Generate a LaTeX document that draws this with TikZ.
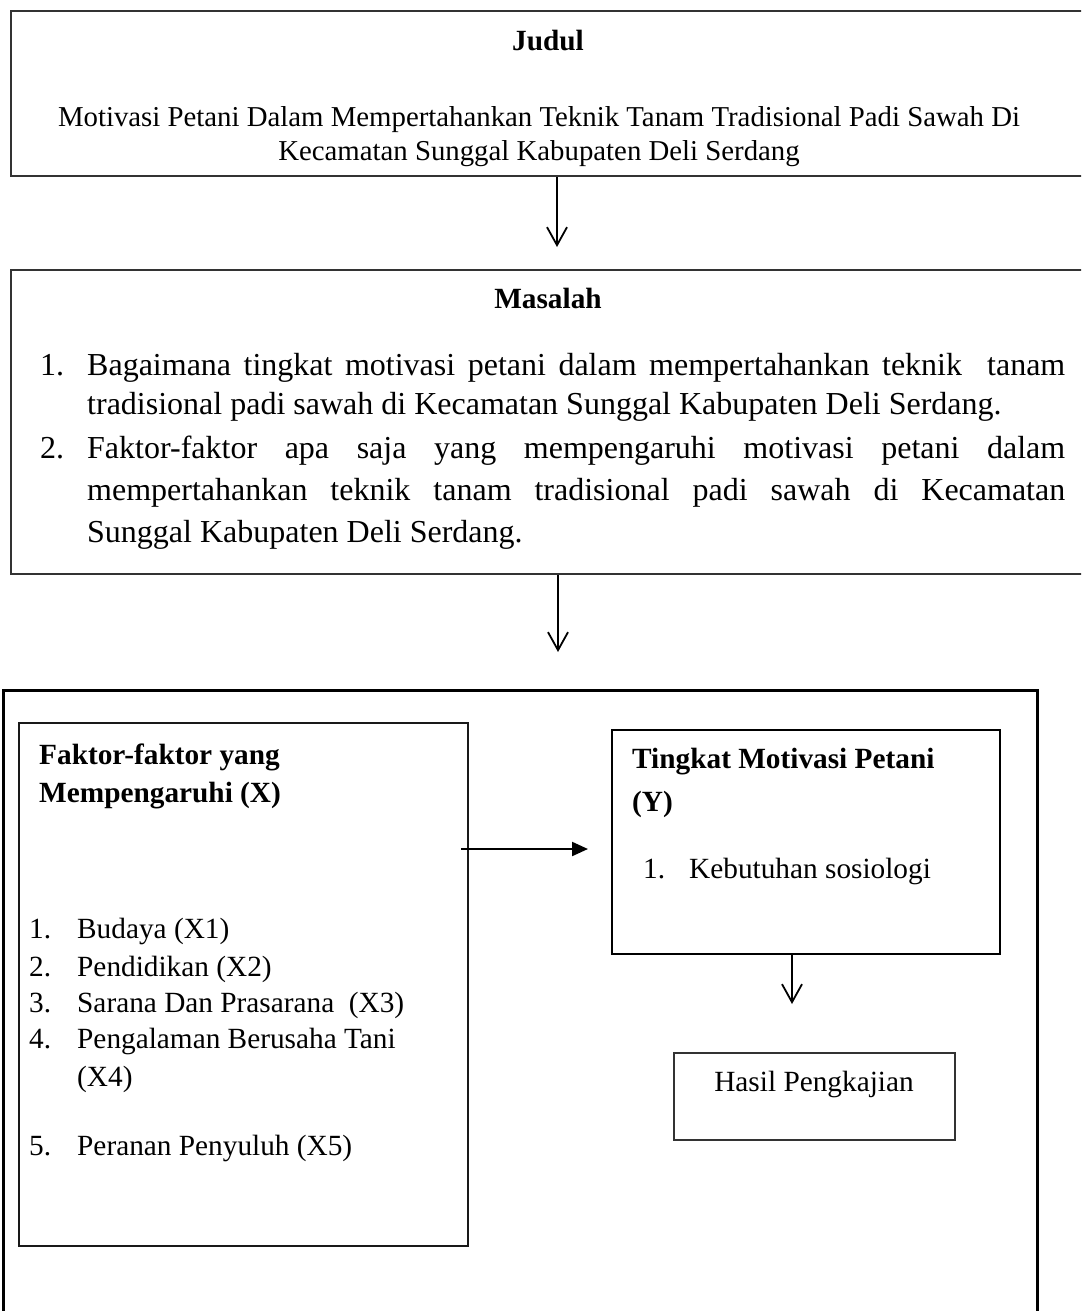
\documentclass[tikz,border=0pt]{standalone}
\usepackage{fontspec}
\setmainfont{Liberation Serif}
\usetikzlibrary{arrows.meta}
\begin{document}
\begin{tikzpicture}[x=1pt,y=-1pt,
  box/.style={draw=black!80, line width=2pt, inner sep=0pt, anchor=north west},
  bigbox/.style={draw=black, line width=3pt, inner sep=0pt, anchor=north west},
  txt/.style={inner sep=0pt, anchor=base west, font=\fontsize{29.3}{35}\selectfont},
  ctxt/.style={txt, anchor=base},
  titletxt/.style={ctxt, font=\fontsize{28.8}{35}\selectfont},
  listtxt/.style={txt, font=\fontsize{32}{38}\selectfont},
  btxt/.style={txt, font=\fontsize{29.3}{35}\selectfont\bfseries},
  cbtxt/.style={btxt, anchor=base},
  openarr/.style={draw=black, line width=1.8pt, -{Straight Barb[length=18pt,width=20pt]}},
  fillarr/.style={draw=black, line width=2.2pt, -{Triangle[length=16pt,width=14pt]}}]
\clip (0,0) rectangle (1081,1311);
\fill[white] (0,0) rectangle (1081,1311);

% top box
\node[box, minimum width=1090pt, minimum height=165pt] (judulbox) at (10,10) {};
\node[cbtxt] (judul) at (548,51) {Judul};
\node[titletxt] (tl1) at (539,127) {Motivasi Petani Dalam Mempertahankan Teknik Tanam Tradisional Padi Sawah Di};
\node[titletxt] (tl2) at (539,160) {Kecamatan Sunggal Kabupaten Deli Serdang};

% masalah box
\node[box, minimum width=1090pt, minimum height=304pt] (masbox) at (10,269) {};
\node[cbtxt] (masalah) at (548,308) {Masalah};
\node[listtxt] (n1) at (40,375) {1.};
\node[listtxt] (m11) at (87,375) {\makebox[978pt][s]{Bagaimana tingkat motivasi petani dalam mempertahankan teknik\ \ tanam}};
\node[listtxt] (m12) at (87,414) {tradisional padi sawah di Kecamatan Sunggal Kabupaten Deli Serdang.};
\node[listtxt] (n2) at (40,458) {2.};
\node[listtxt] (m21) at (87,458) {\makebox[978pt][s]{Faktor-faktor apa saja yang mempengaruhi motivasi petani dalam}};
\node[listtxt] (m22) at (87,500) {\makebox[978pt][s]{mempertahankan teknik tanam tradisional padi sawah di Kecamatan}};
\node[listtxt] (m23) at (87,542) {Sunggal Kabupaten Deli Serdang.};

% big box
\node[bigbox, minimum width=1034pt, minimum height=700pt] (bigbox) at (2,689) {};

% left box
\node[box, draw=black!90, minimum width=449pt, minimum height=523pt] (xbox) at (18,722) {};
\node[btxt] (x1) at (39,764) {Faktor-faktor yang};
\node[btxt] (x2) at (39,802) {Mempengaruhi (X)};
\node[txt] (xn1) at (29,938) {1.};
\node[txt] (xi1) at (77,938) {Budaya (X1)};
\node[txt] (xn2) at (29,976) {2.};
\node[txt] (xi2) at (77,976) {Pendidikan (X2)};
\node[txt] (xn3) at (29,1012) {3.};
\node[txt] (xi3) at (77,1012) {Sarana Dan Prasarana\ \ (X3)};
\node[txt] (xn4) at (29,1048) {4.};
\node[txt] (xi4) at (77,1048) {Pengalaman Berusaha Tani};
\node[txt] (xi4b) at (77,1086) {(X4)};
\node[txt] (xn5) at (29,1155) {5.};
\node[txt] (xi5) at (77,1155) {Peranan Penyuluh (X5)};

% Y box
\node[box, draw=black, minimum width=388pt, minimum height=224pt] (ybox) at (611,729) {};
\node[btxt] (y1) at (632,768) {Tingkat Motivasi Petani};
\node[btxt] (y2) at (632,811) {(Y)};
\node[txt] (yn1) at (643,878) {1.};
\node[txt] (yi1) at (689,878) {Kebutuhan sosiologi};

% hasil box
\node[box, minimum width=281pt, minimum height=87pt] (hbox) at (673,1052) {};
\node[ctxt] (hasil) at (814,1091) {Hasil Pengkajian};

% connectors
\coordinate (a1) at (557,0);
\coordinate (a2) at (558,0);
\coordinate (a3) at (0,849);
\coordinate (a4) at (792,0);
\draw[openarr, shorten >=22pt] (judulbox.south -| a1) -- (masbox.north -| a1);
\draw[openarr, shorten >=37pt] (masbox.south -| a2) -- (bigbox.north -| a2);
\draw[fillarr, shorten <=-8pt, shorten >=23pt] (xbox.east |- a3) -- (ybox.west |- a3);
\draw[openarr, shorten >=48pt] (ybox.south -| a4) -- (hbox.north -| a4);
\end{tikzpicture}
\end{document}
